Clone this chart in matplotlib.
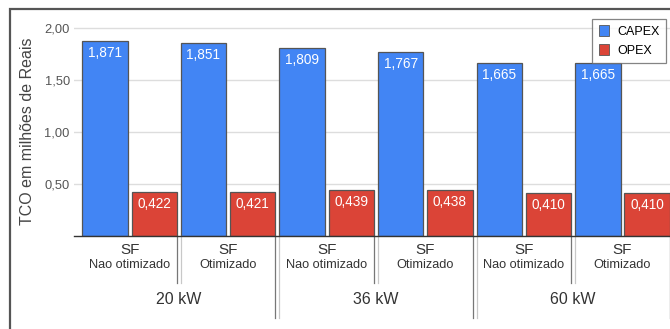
import matplotlib
matplotlib.use("Agg")
import matplotlib.pyplot as plt
from matplotlib.patches import Rectangle, Patch
from matplotlib.transforms import blended_transform_factory

plt.rcParams['font.family'] = ['Liberation Sans', 'DejaVu Sans']

# Data
groups = ["20 kW", "36 kW", "60 kW"]
scenarios = ["Nao otimizado", "Otimizado"]
capex = [1.871, 1.851, 1.809, 1.767, 1.665, 1.665]
opex = [0.422, 0.421, 0.439, 0.438, 0.410, 0.410]
yticks = [0.5, 1.0, 1.5, 2.0]
ytick_labels = ["0,50", "1,00", "1,50", "2,00"]

BLUE = "#4285F4"
RED = "#DB4437"

W, H = 670, 329
fig = plt.figure(figsize=(W / 100, H / 100), dpi=100)

def fx(px):
    return px / W

def fy(px):
    return 1 - px / H

# outer frame
fig.patches.append(Rectangle((fx(10), fy(400)), 1.2, fy(9) - fy(400),
                             transform=fig.transFigure, fill=False,
                             edgecolor="#555555", linewidth=1.6))

ax_left, ax_bottom_px, ax_top_px = 74, 236, 19
ax = fig.add_axes([fx(ax_left), fy(ax_bottom_px), 1 - fx(ax_left) + 0.01,
                   fy(ax_top_px) - fy(ax_bottom_px)])

n = len(capex)
x = list(range(n))
bw = 0.46
off = bw / 2 + 0.02
ymax = 2.0 * (ax_bottom_px - ax_top_px) / (ax_bottom_px - 28)
ax.set_ylim(0, ymax)
ax.set_xlim(-0.5635, 5.55)

for v in yticks:
    ax.axhline(v, color="#dddddd", linewidth=1, zorder=0)

bc = ax.bar([i - off for i in x], capex, width=bw, color=BLUE,
            edgecolor="#555555", linewidth=0.9, zorder=2, label="CAPEX")
bo = ax.bar([i + off for i in x], opex, width=bw, color=RED,
            edgecolor="#555555", linewidth=0.9, zorder=2, label="OPEX")

def fmt(v):
    return f"{v:.3f}".replace(".", ",")

for bars, vals in ((bc, capex), (bo, opex)):
    for b, v in zip(bars, vals):
        ax.annotate(fmt(v), (b.get_x() + b.get_width() / 2, v),
                    xytext=(0, -3.5), textcoords="offset points",
                    ha="center", va="top", color="white", fontsize=9.8, zorder=3)

ax.set_yticks(yticks)
ax.set_yticklabels(ytick_labels, color="#555555", fontsize=9.3)
ax.tick_params(axis="y", length=0, pad=3)
ax.set_xticks([])
for s in ("top", "right", "left"):
    ax.spines[s].set_visible(False)
ax.spines["bottom"].set_color("#333333")
ax.spines["bottom"].set_linewidth(1.0)

fig.text(fx(28), fy(131), "TCO em milhões de Reais", rotation=90,
         ha="center", va="center", fontsize=11.5, color="#444444")

tr = blended_transform_factory(ax.transData, fig.transFigure)
for i in x:
    ax.text(i, fy(250), "SF", transform=tr, ha="center", va="center",
            fontsize=11, color="#333333")
    ax.text(i, fy(265), scenarios[i % 2], transform=tr, ha="center",
            va="center", fontsize=9.2, color="#333333")

for g, name in enumerate(groups):
    ax.text(2 * g + 0.5, fy(300), name, transform=tr, ha="center",
            va="center", fontsize=11.5, color="#333333")

# separators below the baseline
for i in range(n):
    right = i + off + bw / 2
    left_next = i + 1 - off - bw / 2
    end = 318 if i % 2 == 1 else 283
    ax.plot([right, right], [fy(236), fy(end)], transform=tr, color="#777777",
            linewidth=0.9, clip_on=False)
    if i < n - 1:
        ax.plot([left_next, left_next], [fy(236), fy(end)], transform=tr,
                color="#c8c8c8", linewidth=0.9, clip_on=False)

handles = [Patch(facecolor=BLUE, edgecolor="#555555", linewidth=0.6, label="CAPEX"),
           Patch(facecolor=RED, edgecolor="#555555", linewidth=0.6, label="OPEX")]
leg = fig.legend(handles=handles, loc="upper right",
                 bbox_to_anchor=(fx(666), fy(19)), fontsize=9,
                 frameon=True, fancybox=False, edgecolor="#666666",
                 handlelength=0.8, handleheight=1.0, handletextpad=0.7,
                 borderpad=0.5, labelspacing=0.45, borderaxespad=0)
leg.get_frame().set_linewidth(0.9)
leg.set_zorder(5)

fig.savefig("out.png", dpi=100)
